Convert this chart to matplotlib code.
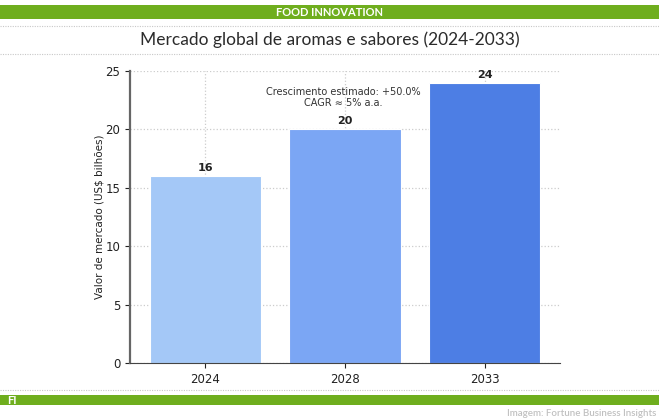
import matplotlib
matplotlib.use("Agg")
import matplotlib.pyplot as plt
from matplotlib.lines import Line2D
from matplotlib.patches import Rectangle

years = ["2024", "2028", "2033"]
values = [16, 20, 24]
colors = ["#a4c8f7", "#7ba6f4", "#4d7ee4"]
yticks = [0, 5, 10, 15, 20, 25]
note = "Crescimento estimado: +50.0%\nCAGR ≈ 5% a.a."
title = "Mercado global de aromas e sabores (2024-2033)"
ylabel = "Valor de mercado (US$ bilhões)"
band_top = "FOOD INNOVATION"
band_bottom = "FI"
credit = "Imagem: Fortune Business Insights"

W, H = 659, 420
fig = plt.figure(figsize=(W / 100, H / 100), dpi=100)
fig.patch.set_facecolor("white")

green = "#6fae1e"
# top band
fig.add_artist(Rectangle((0, 1 - 19 / H), 1, 14 / H, transform=fig.transFigure,
                         facecolor=green, edgecolor="none"))
fig.text(0.5, 1 - 12 / H, band_top, color="white", fontsize=8, ha="center",
         va="center", family="Lato", fontweight="bold")
# dotted lines
for yy in [26, 54, 390]:
    fig.add_artist(Line2D([0, 1], [1 - yy / H] * 2, transform=fig.transFigure,
                          color="#c8c8c8", lw=0.8, ls=(0, (1, 1.2))))
fig.text(0.5, 1 - 40 / H, title, color="#2b2b2b", fontsize=12.5, ha="center",
         va="center", family="Lato")
# bottom band
fig.add_artist(Rectangle((0, 1 - 405 / H), 1, 10 / H, transform=fig.transFigure,
                         facecolor=green, edgecolor="none"))
fig.text(7 / W, 1 - 400.5 / H, band_bottom, color="white", fontsize=8, ha="left",
         va="center", family="Lato", fontweight="bold")
fig.text(1 - 3 / W, 1 - 413 / H, credit, color="#c0c0c0", fontsize=7,
         ha="right", va="center", family="Lato", fontweight="semibold")

ax = fig.add_axes([130 / W, 1 - 363 / H, 430 / W, 292 / H])
x = list(range(len(years)))
bars = ax.bar(x, values, width=0.8, color=colors, edgecolor="#ffffff", linewidth=0.8, zorder=2)
ax.set_ylim(0, 25)
ax.set_yticks(yticks)
ax.set_xticks(x)
ax.set_xticklabels(years)
ax.tick_params(labelsize=8.5, colors="#222222")
for b, v in zip(bars, values):
    ax.text(b.get_x() + b.get_width() / 2, v + 0.25, str(v), ha="center",
            va="bottom", fontsize=8, fontweight="bold", color="#222222")
ax.text(0.99, 22.75, note, ha="center", va="center", fontsize=7, color="#333333",
        linespacing=1.1)
ax.set_ylabel(ylabel, fontsize=7.5, color="#222222", labelpad=1)
ax.grid(True, ls=":", color="#cccccc", lw=0.9, zorder=0)
ax.set_axisbelow(True)
for s in ["top", "right"]:
    ax.spines[s].set_visible(False)
ax.spines["left"].set_color("#666666")
ax.spines["left"].set_linewidth(1.6)
ax.spines["bottom"].set_color("#444444")

fig.savefig("out.png", dpi=100)
